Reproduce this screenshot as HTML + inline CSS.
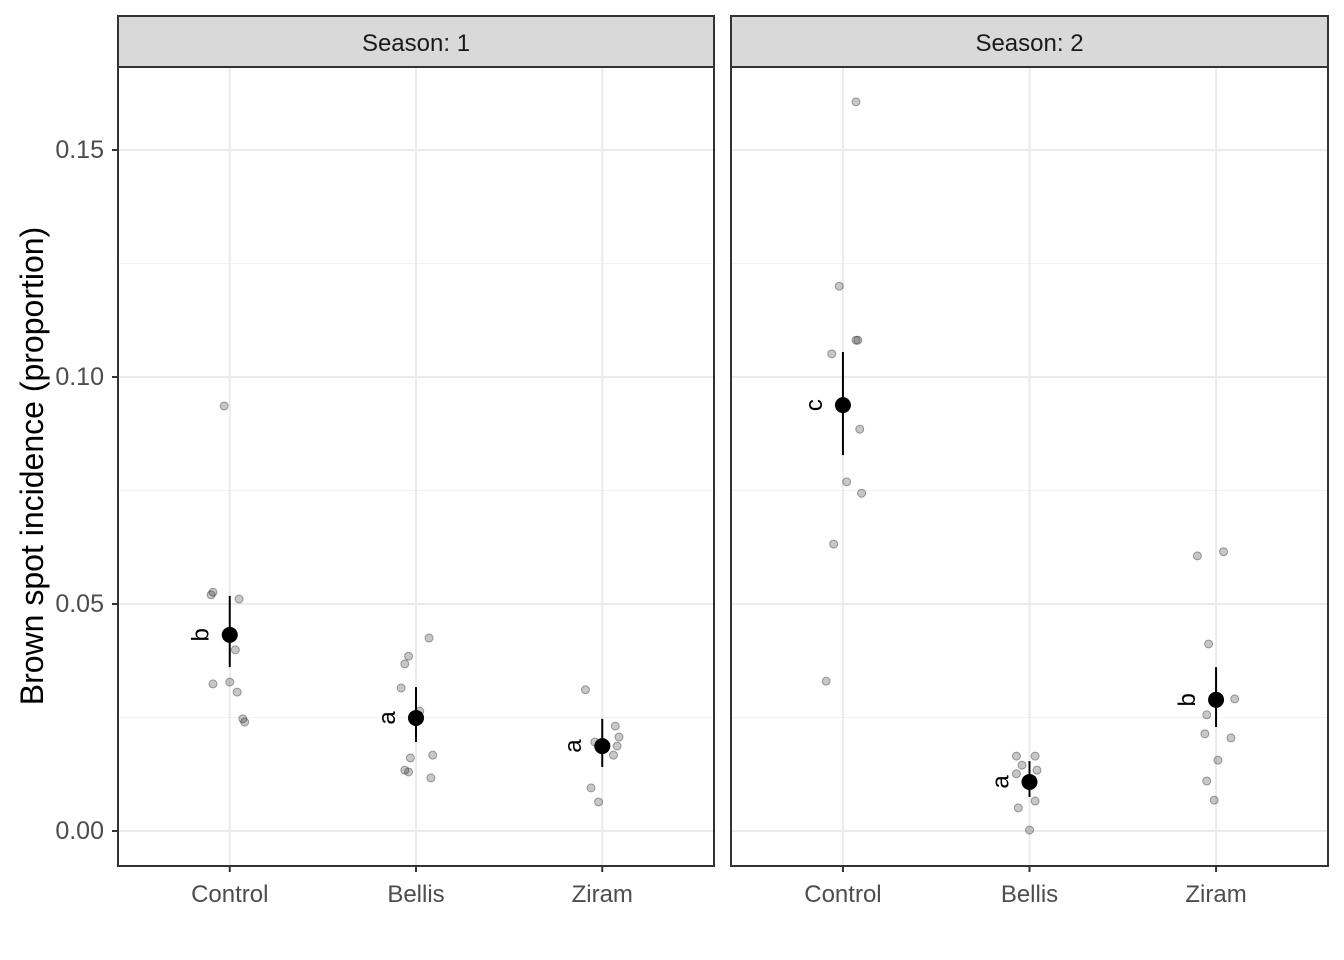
<!DOCTYPE html>
<html><head><meta charset="utf-8"><style>body{margin:0;background:#fff}svg{display:block;font-family:"Liberation Sans",Arial,sans-serif}</style></head>
<body>
<svg id="c" width="1344" height="960"></svg>
<script>
const categories=["Control","Bellis","Ziram"];
const seasons=["Season: 1","Season: 2"];
const yTicks=[0,0.05,0.10,0.15];
const yTickLabels=["0.00","0.05","0.10","0.15"];
const yMinor=[0.025,0.075,0.125];
const s1Control=[0.0936,0.0526,0.0520,0.0511,0.0399,0.0328,0.0324,0.0306,0.0247,0.0240];
const s1ControlJit=[-0.03,-0.09,-0.10,0.05,0.03,0,-0.09,0.04,0.07,0.08];
const s1Bellis=[0.0425,0.0385,0.0368,0.0315,0.0264,0.0161,0.0167,0.0134,0.0130,0.0117];
const s1BellisJit=[0.07,-0.04,-0.06,-0.08,0.02,-0.03,0.09,-0.06,-0.04,0.08];
const s1Ziram=[0.0311,0.0196,0.0231,0.0207,0.0187,0.0167,0.0095,0.0064,0.0190];
const s1ZiramJit=[-0.09,-0.04,0.07,0.09,0.08,0.06,-0.06,-0.02,0.02];
const s2Control=[0.1606,0.1200,0.1081,0.1081,0.1051,0.0885,0.0769,0.0744,0.0632,0.0330];
const s2ControlJit=[0.07,-0.02,0.08,0.07,-0.06,0.09,0.02,0.10,-0.05,-0.09];
const s2Bellis=[0.0165,0.0165,0.0145,0.0134,0.0126,0.0066,0.0051,0.0002];
const s2BellisJit=[-0.07,0.03,-0.04,0.04,-0.07,0.03,-0.06,0];
const s2Ziram=[0.0606,0.0615,0.0412,0.0291,0.0256,0.0214,0.0205,0.0156,0.0110,0.0068];
const s2ZiramJit=[-0.10,0.04,-0.04,0.10,-0.05,-0.06,0.08,0.01,-0.05,-0.01];
const means1=[0.0432,0.0249,0.0187];
const lo1=[0.0361,0.0196,0.0141];
const hi1=[0.0518,0.0317,0.0247];
const means2=[0.0938,0.0108,0.0289];
const lo2=[0.0828,0.0075,0.0229];
const hi2=[0.1055,0.0154,0.0361];
const letters1=["b","a","a"];
const letters2=["c","a","b"];

const NS="http://www.w3.org/2000/svg",svg=document.getElementById('c');
function mk(t,a,p){const e=document.createElementNS(NS,t);for(const k in a)e.setAttribute(k,a[k]);(p||svg).appendChild(e);return e;}
const yTop=67,yBot=866;
const y=v=>831-v*4540;
const panels=[{x0:118,x1:714},{x0:731,x1:1328}];
const pts=[[s1Control,s1Bellis,s1Ziram],[s2Control,s2Bellis,s2Ziram]];
const jits=[[s1ControlJit,s1BellisJit,s1ZiramJit],[s2ControlJit,s2BellisJit,s2ZiramJit]];
const means=[means1,means2],los=[lo1,lo2],his=[hi1,hi2],lets=[letters1,letters2];
panels.forEach((p,pi)=>{
  const w=p.x1-p.x0;
  const unit=w/3.2;
  const x=i=>p.x0+unit*(i+0.6);
  const g=mk('g',{});
  
  
  mk('rect',{x:p.x0,y:yTop,width:w,height:yBot-yTop,fill:'#fff'},g);
  yMinor.forEach(v=>mk('line',{x1:p.x0,x2:p.x1,y1:y(v),y2:y(v),stroke:'#f2f2f2','stroke-width':1},g));
  yTicks.forEach(v=>mk('line',{x1:p.x0,x2:p.x1,y1:y(v),y2:y(v),stroke:'#ebebeb','stroke-width':2},g));
  categories.forEach((c,i)=>{
    mk('line',{x1:x(i),x2:x(i),y1:yTop,y2:yBot,stroke:'#ebebeb','stroke-width':2},g);
    pts[pi][i].forEach((v,k)=>{
      const e=mk('circle',{cx:x(i)+jits[pi][i][k]*unit,cy:y(v),r:4,fill:'rgba(0,0,0,0.22)',stroke:'rgba(0,0,0,0.35)','stroke-width':1},g);
      
      
    });
    const eb=mk('line',{x1:x(i),x2:x(i),y1:y(his[pi][i]),y2:y(los[pi][i]),stroke:'#000','stroke-width':2},g);
    
    
    const m=mk('circle',{cx:x(i),cy:y(means[pi][i]),r:8,fill:'#000'},g);
    
    
    const lx=x(i)-21,ly=y(means[pi][i]);
    const t=mk('text',{x:lx,y:ly,'font-size':24,'text-anchor':'middle',transform:`rotate(-90 ${lx} ${ly})`,fill:'#000'},g);
    t.textContent=lets[pi][i];
    
    
    mk('line',{x1:x(i),x2:x(i),y1:yBot,y2:yBot+6,stroke:'#333','stroke-width':2},g);
    const xl=mk('text',{x:x(i),y:902,'font-size':24,'text-anchor':'middle',fill:'#4d4d4d'},g);
    xl.textContent=c;
    
    
  });
  mk('rect',{x:p.x0,y:yTop,width:w,height:yBot-yTop,fill:'none',stroke:'#333','stroke-width':2},g);
  mk('rect',{x:p.x0,y:16,width:w,height:51,fill:'#d9d9d9',stroke:'#333','stroke-width':2},g);
  const st=mk('text',{x:(p.x0+p.x1)/2,y:51,'font-size':24,'text-anchor':'middle',fill:'#1a1a1a'},g);
  st.textContent=seasons[pi];
  
  
});
yTicks.forEach((v,i)=>{
  mk('line',{x1:112,x2:118,y1:y(v),y2:y(v),stroke:'#333','stroke-width':2});
  const t=mk('text',{x:104,y:y(v)+8,'font-size':25,'text-anchor':'end',fill:'#4d4d4d'});
  t.textContent=yTickLabels[i];
  
  
});
const yt=mk('text',{x:32,y:466,'font-size':32,'text-anchor':'middle','dominant-baseline':'central',transform:'rotate(-90 32 466)',fill:'#000'});
yt.textContent='Brown spot incidence (proportion)';


</script>
</body></html>
